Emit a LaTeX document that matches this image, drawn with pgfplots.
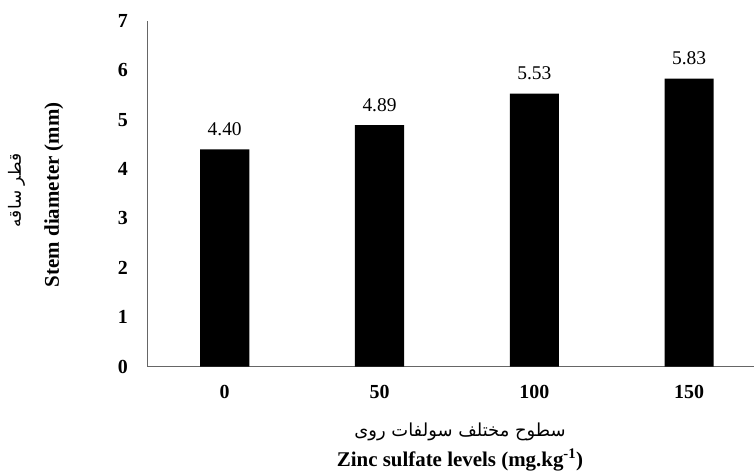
\documentclass[border=0pt]{standalone}
\usepackage{pgfplots}
\pgfplotsset{compat=1.18}
\usepackage{fontspec}
\setmainfont{Liberation Serif}
\newfontfamily\arabicfont[Script=Arabic]{DejaVu Sans}
\TeXXeTstate=1
\begin{document}
\begin{tikzpicture}
\path[use as bounding box] (-147bp,-107.5bp) rectangle (607bp,366.5bp);
\begin{axis}[
  scale only axis, width=607bp, height=345.5bp,
  ybar, bar width=0.317,
  xmin=-0.502, xmax=3.419, ymin=0, ymax=7,
  axis x line=bottom, axis y line=left,
  axis line style={-, draw=black!60, line width=0.9bp},
  xtick={0,1,2,3}, xticklabels={0,50,100,150},
  ytick={0,1,2,3,4,5,6,7},
  major tick length=0pt,
  /pgf/number format/assume math mode=true,
  tick label style={font=\fontsize{20}{22}\selectfont\bfseries, inner sep=0pt},
  yticklabel style={xshift=-19bp},
  xticklabel style={yshift=-18.5bp},
  point meta=explicit symbolic,
  nodes near coords,
  every node near coord/.append style={font=\fontsize{19.5}{22}\selectfont, anchor=south, inner sep=0pt, yshift=13.5bp},
  clip=false,
]
\addplot[fill=black, draw=none] coordinates {
(0,4.40) [4.40]
(1,4.89) [4.89]
(2,5.53) [5.53]
(3,5.83) [5.83]
};
\end{axis}
% axis titles
\node[rotate=90, anchor=base, font=\fontsize{21}{24}\selectfont\bfseries] at (-88bp,171.8bp) {Stem diameter (mm)};
\node[rotate=90, anchor=base, font=\fontsize{17}{20}\selectfont\arabicfont] at (-126bp,176bp) {\beginR قطر ساقه\endR};
\node[anchor=base, font=\fontsize{18}{20}\selectfont\arabicfont] at (313bp,-69.5bp) {\beginR سطوح مختلف سولفات روی\endR};
\node[anchor=base, font=\fontsize{21}{24}\selectfont\bfseries] at (313bp,-99.5bp) {Zinc sulfate levels (mg.kg\textsuperscript{-1})};
\end{tikzpicture}
\end{document}
